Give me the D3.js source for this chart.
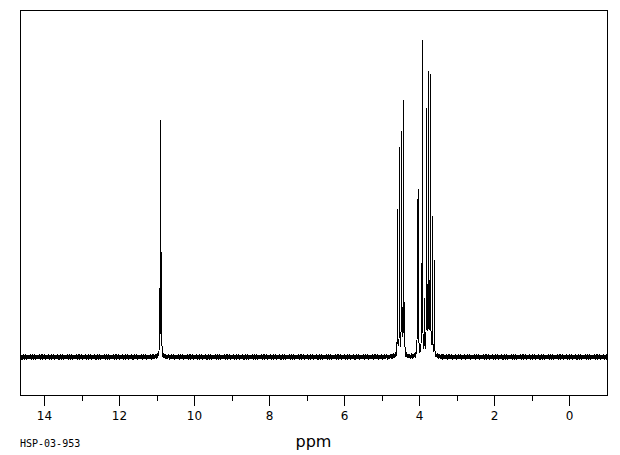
<!DOCTYPE html>
<html>
<head>
<meta charset="utf-8">
<script src="https://cdn.jsdelivr.net/npm/d3@7"></script>
<style>
  body { margin: 0; background: #fff; }
  text { fill: #000; }
</style>
</head>
<body>
<div id="container"></div>
<script>
// DATA - line positions (ppm) and heights (% of tallest line)
const peakPpm = [10.920, 10.893, 10.867,
  4.573, 4.520, 4.467, 4.440, 4.413, 4.387,
  4.040, 4.013, 3.933, 3.907, 3.853, 3.800, 3.773, 3.747, 3.720, 3.693, 3.640, 3.587];
const peakHeight = [20.2, 74.1, 30.9,
  47.0, 65.9, 70.3, 11.7, 81.7, 15.8,
  49.2, 52.4, 27.4, 100, 18, 77.6, 18, 89.0, 20, 88.0, 43.2, 30.6];

// baseline noise offsets (% units), cycled along the trace
const noise = [0.3, -0.5, 0.6, -0.2, 0.8, -0.7, 0.1, 0.5, -0.9, 0.4, -0.3, 0.7, -0.6,
  0.2, 0.9, -0.4, 0.0, -0.8, 0.5, -0.1, 0.6, -0.6, 0.3, 0.8, -0.5, -0.2, 0.4,
  -0.9, 0.7, 0.1, -0.4, 0.5, -0.7, 0.2, 0.6, -0.3, -0.6];

const majorTicks = [14, 12, 10, 8, 6, 4, 2, 0];
const minorTicks = [13, 11, 9, 7, 5, 3, 1];
const xLabel = "ppm";
const sampleId = "HSP-03-953";

// VARIABLES
const width = 620,
  height = 455,
  margin = { top: 10, bottom: 60, left: 20, right: 13 };

const xScale = d3.scaleLinear()
  .domain([14.64, -1.0133])
  .range([margin.left, width - margin.right]);

// top slightly above 100 so line tails + noise don't overshoot
const yScale = d3.scaleLinear()
  .domain([0, 101.8])
  .range([357, 40]);

// build the trace as a sum of narrow lorentzian lines
const pxPerPpm = 37.5;
const gNarrow = 0.13 / pxPerPpm;
const gFoot = 1.2 / pxPerPpm;
const footFrac = 0.012;

const trace = [];
let i = 0;
for (let px = margin.left; px <= width - margin.right; px += 0.25) {
  const ppm = xScale.invert(px);
  let v = noise[i % noise.length];
  peakPpm.forEach((p, k) => {
    const d = ppm - p;
    v += peakHeight[k] * gNarrow * gNarrow / (d * d + gNarrow * gNarrow);
    v += footFrac * peakHeight[k] * gFoot * gFoot / (d * d + gFoot * gFoot);
  });
  trace.push({ ppm: ppm, v: v });
  i++;
}

const svg = d3.select("#container")
  .append("svg")
  .attr("width", width)
  .attr("height", height);

// frame
const plotBottom = 395;
svg.append("rect")
  .attr("x", margin.left + 0.5)
  .attr("y", margin.top + 0.5)
  .attr("width", width - margin.right - margin.left)
  .attr("height", plotBottom - margin.top)
  .attr("fill", "none")
  .attr("stroke", "#000")
  .attr("stroke-width", 1)
  .attr("shape-rendering", "crispEdges");

// spectrum
const line = d3.line()
  .x(d => xScale(d.ppm))
  .y(d => yScale(d.v));

svg.append("path")
  .datum(trace)
  .attr("d", line)
  .attr("fill", "none")
  .attr("stroke", "#000")
  .attr("stroke-width", 1)
  .attr("shape-rendering", "crispEdges");

// axes
const majorAxis = d3.axisBottom(xScale)
  .tickValues(majorTicks)
  .tickSize(10)
  .tickPadding(6)
  .tickFormat(d3.format("d"));

const minorAxis = d3.axisBottom(xScale)
  .tickValues(minorTicks)
  .tickSize(5)
  .tickFormat("");

svg.append("g")
  .attr("transform", `translate(0,${plotBottom + 0.5})`)
  .call(majorAxis)
  .call(g => g.select(".domain").remove())
  .call(g => g.selectAll("line").attr("stroke", "#000").attr("shape-rendering", "crispEdges"))
  .call(g => g.selectAll("text")
    .attr("fill", "#000")
    .style("font-family", "DejaVu Sans, sans-serif")
    .style("font-size", "12px"));

svg.append("g")
  .attr("transform", `translate(0,${plotBottom + 0.5})`)
  .call(minorAxis)
  .call(g => g.select(".domain").remove())
  .call(g => g.selectAll("line").attr("stroke", "#000").attr("shape-rendering", "crispEdges"));

// labels
svg.append("text")
  .attr("x", 313.5)
  .attr("y", 447)
  .attr("text-anchor", "middle")
  .style("font-family", "DejaVu Sans, sans-serif")
  .style("font-size", "16px")
  .text(xLabel);

svg.append("text")
  .attr("x", 20)
  .attr("y", 447)
  .style("font-family", "DejaVu Sans Mono, monospace")
  .style("font-size", "10px")
  .text(sampleId);
</script>
</body>
</html>
